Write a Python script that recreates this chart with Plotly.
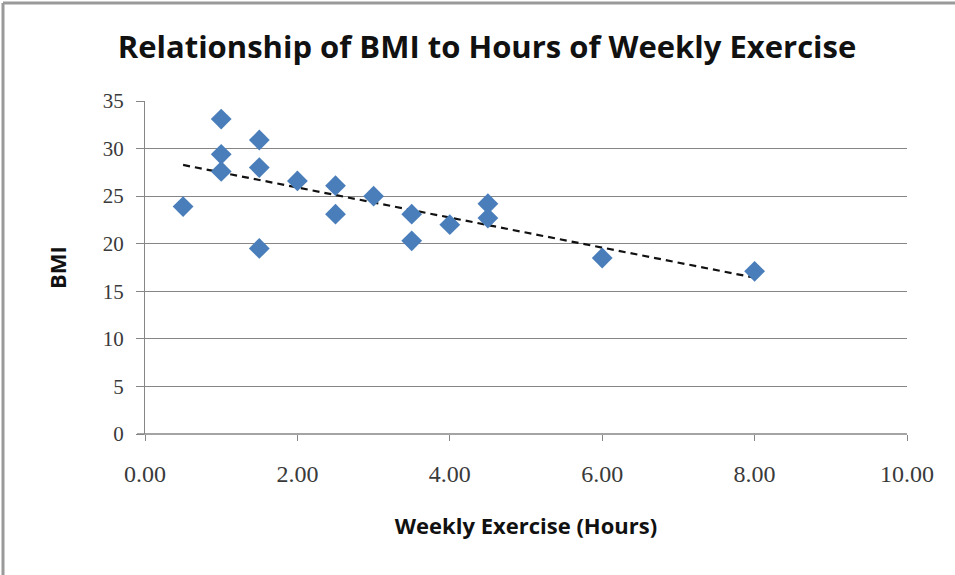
import numpy as np
import plotly.graph_objects as go

hours = [0.5, 1.0, 1.0, 1.0, 1.5, 1.5, 1.5, 2.0, 2.5, 2.5, 3.0, 3.5, 3.5, 4.0, 4.5, 4.5, 6.0, 8.0]
bmi = [23.9, 33.1, 29.4, 27.6, 30.9, 28.0, 19.5, 26.6, 26.1, 23.1, 25.0, 23.1, 20.3, 22.0, 24.2, 22.7, 18.5, 17.1]

x_ticks = [0, 2, 4, 6, 8, 10]
x_tick_labels = ["0.00", "2.00", "4.00", "6.00", "8.00", "10.00"]
y_ticks = [0, 5, 10, 15, 20, 25, 30, 35]

slope, intercept = np.polyfit(hours, bmi, 1)
tx = [min(hours), max(hours)]
ty = [slope * v + intercept for v in tx]

fig = go.Figure()
fig.add_trace(go.Scatter(x=tx, y=ty, mode="lines",
                         line=dict(color="#111", width=2.2, dash="7px,5px"),
                         hoverinfo="skip", showlegend=False))
fig.add_trace(go.Scatter(x=hours, y=bmi, mode="markers",
                         marker=dict(symbol="diamond", size=16, color="#4A7EBB",
                                     line=dict(width=0)),
                         showlegend=False))

grid_col = "#868686"
fig.update_layout(
    width=955, height=575,
    margin=dict(l=145, r=48, t=101, b=141),
    paper_bgcolor="white", plot_bgcolor="white",
    font=dict(family="Open Sans", color="#222"),
    title=dict(text="<b>Relationship of BMI to Hours of Weekly Exercise</b>",
               xref="container", x=487 / 955, xanchor="center",
               yref="container", y=1 - 47 / 575, yanchor="middle",
               font=dict(size=31, family="Open Sans", color="#111")),
    xaxis=dict(range=[0, 10], tickvals=x_ticks, ticktext=x_tick_labels,
               showgrid=False, zeroline=False, showline=False,
               ticks="outside", ticklen=6, tickcolor=grid_col,
               ticklabelstandoff=12,
               tickfont=dict(size=24, family="Liberation Serif", color="#3a3a3a"),
               title=dict(text="<b>Weekly Exercise (Hours)</b>", standoff=32,
                          font=dict(size=22, family="Open Sans", color="#111"))),
    yaxis=dict(range=[0, 35], tickvals=y_ticks,
               showgrid=True, gridcolor=grid_col, gridwidth=1,
               zeroline=False, showline=True, linecolor=grid_col, linewidth=1,
               ticks="outside", ticklen=8, tickcolor=grid_col,
               ticklabelstandoff=8,
               tickfont=dict(size=21, family="Liberation Serif", color="#3a3a3a"),
               title=dict(text="<b>BMI</b>", standoff=30,
                          font=dict(size=22, family="Open Sans", color="#111"))),
)

# x-axis baseline (the 0 gridline) and chart border
fig.add_shape(type="line", xref="paper", yref="paper", x0=-8/762, x1=1, y0=0, y1=0,
              line=dict(color=grid_col, width=1.5))
fig.add_shape(type="line", xref="paper", yref="paper", x0=-142/762, x1=-142/762,
              y0=-141/333, y1=431/333, line=dict(color="#9a9a9a", width=3))
fig.add_shape(type="line", xref="paper", yref="paper", x0=-142/762, x1=810/762,
              y0=431/333, y1=431/333, line=dict(color="#9a9a9a", width=3))

fig.write_html("out.html", config={"displayModeBar": False},
               post_script="document.body.style.margin='0px';")
